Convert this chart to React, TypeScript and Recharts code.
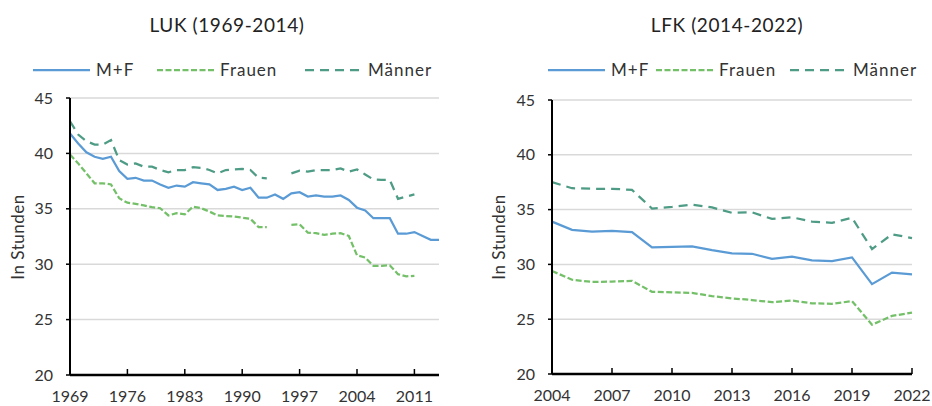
import React from "react";
import { LineChart, Line, XAxis, YAxis, CartesianGrid } from "recharts";

// LUK 1969-2014, weekly hours
const lukYears = [
  1969, 1970, 1971, 1972, 1973, 1974, 1975, 1976, 1977, 1978, 1979, 1980,
  1981, 1982, 1983, 1984, 1985, 1986, 1987, 1988, 1989, 1990, 1991, 1992,
  1993, 1994, 1995, 1996, 1997, 1998, 1999, 2000, 2001, 2002, 2003, 2004,
  2005, 2006, 2007, 2008, 2009, 2010, 2011, 2012, 2013, 2014,
];
const lukMF = [
  41.8, 40.9, 40.1, 39.7, 39.5, 39.7, 38.4, 37.7, 37.8, 37.55, 37.55, 37.2,
  36.9, 37.1, 37.0, 37.4, 37.3, 37.2, 36.7, 36.8, 37.0, 36.7, 36.9, 36.0,
  36.0, 36.3, 35.9, 36.4, 36.5, 36.1, 36.2, 36.1, 36.1, 36.2, 35.8, 35.1,
  34.85, 34.15, 34.15, 34.15, 32.75, 32.75, 32.9, 32.55, 32.2, 32.2,
];
const lukFrauen = [
  39.9, 39.1, 38.2, 37.3, 37.3, 37.2, 35.95, 35.55, 35.45, 35.3, 35.15, 35.05,
  34.4, 34.6, 34.5, 35.2, 35.05, 34.75, 34.4, 34.35, 34.3, 34.2, 34.1, 33.35,
  33.35, null, null, 33.55, 33.6, 32.85, 32.8, 32.65, 32.75, 32.8, 32.55, 30.8,
  30.6, 29.85, 29.85, 29.9, 29.1, 28.9, 28.95, null, null, null,
];
const lukMaenner = [
  42.9, 41.7, 41.1, 40.8, 40.8, 41.2, 39.4, 39.0, 39.1, 38.8, 38.8, 38.5,
  38.3, 38.5, 38.5, 38.75, 38.7, 38.5, 38.2, 38.5, 38.55, 38.6, 38.5, 37.8,
  37.75, null, null, 38.2, 38.45, 38.35, 38.5, 38.5, 38.5, 38.65, 38.35, 38.55,
  38.1, 37.65, 37.6, 37.6, 35.9, 36.1, 36.3, null, null, null,
];

// LFK 2004-2022
const lfkYears = [
  2004, 2005, 2006, 2007, 2008, 2009, 2010, 2011, 2012, 2013, 2014, 2015,
  2016, 2017, 2018, 2019, 2020, 2021, 2022,
];
const lfkMF = [
  33.9, 33.15, 33.0, 33.05, 32.95, 31.55, 31.6, 31.65, 31.3, 31.0, 30.97, 30.5,
  30.7, 30.37, 30.3, 30.64, 28.2, 29.25, 29.1,
];
const lfkFrauen = [
  29.4, 28.6, 28.4, 28.43, 28.5, 27.5, 27.45, 27.4, 27.1, 26.9, 26.75, 26.55,
  26.7, 26.45, 26.4, 26.65, 24.5, 25.3, 25.6,
];
const lfkMaenner = [
  37.5, 36.95, 36.9, 36.9, 36.8, 35.1, 35.25, 35.45, 35.2, 34.7, 34.75, 34.15,
  34.3, 33.9, 33.8, 34.25, 31.4, 32.75, 32.4,
];

const yTicks = [20, 25, 30, 35, 40, 45];
const lukXTicks = [1969, 1976, 1983, 1990, 1997, 2004, 2011];
const lfkXTicks = [2004, 2007, 2010, 2013, 2016, 2019, 2022];

const FONT = "Lato, 'Open Sans', sans-serif";
const TEXT = "#333333";

const series = [
  { key: "mf", name: "M+F", color: "#5B9BD5", dash: undefined },
  { key: "frauen", name: "Frauen", color: "#74C069", dash: "6 2.5" },
  { key: "maenner", name: "Männer", color: "#4E9C85", dash: "9 6" },
];

function buildRows(years: number[], mf: any[], frauen: any[], maenner: any[]) {
  return years.map((year, i) => ({
    year,
    mf: mf[i],
    frauen: frauen[i],
    maenner: maenner[i],
  }));
}

interface PanelProps {
  left: number;
  title: string;
  titleX: number;
  rows: any[];
  domain: [number, number];
  ticks: number[];
  yWidth: number;
  top: number;
  right: number;
  xHeight: number;
  legendX: number[];
  labelX: number;
}

function Panel(p: PanelProps) {
  const renderXTick = (props: any) => {
    const { x, y, payload } = props;
    return (
      <g>
        {payload.value !== p.domain[0] && (
          <line x1={x} x2={x} y1={y} y2={y - 6} stroke="#000" strokeWidth={1.5} />
        )}
        <text x={x} y={y + 27} textAnchor="middle" fill={TEXT} fontSize={16} fontFamily={FONT}>
          {payload.value}
        </text>
      </g>
    );
  };

  return (
    <div style={{ position: "absolute", left: p.left, top: 0, width: 466, height: 406 }}>
      <LineChart
        width={466}
        height={406}
        data={p.rows}
        margin={{ top: p.top, right: p.right, bottom: 0, left: 0 }}
      >
        <CartesianGrid vertical={false} stroke="#d9d9d9" strokeWidth={1.5} />
        <XAxis
          dataKey="year"
          type="number"
          domain={p.domain}
          ticks={p.ticks}
          interval={0}
          height={p.xHeight}
          tickSize={0}
          tickMargin={0}
          tickLine={false}
          axisLine={{ stroke: "#000", strokeWidth: 2.5 }}
          tick={renderXTick}
        />
        <YAxis
          domain={[20, 45]}
          ticks={yTicks}
          interval={0}
          width={p.yWidth}
          tickSize={4}
          tickMargin={13}
          axisLine={{ stroke: "#000", strokeWidth: 2 }}
          tickLine={{ stroke: "#000", strokeWidth: 1.5 }}
          tick={{ fill: TEXT, fontSize: 16, fontFamily: FONT }}
        />
        {series.map((s) => (
          <Line
            key={s.key}
            dataKey={s.key}
            name={s.name}
            type="linear"
            stroke={s.color}
            strokeWidth={2.25}
            strokeDasharray={s.dash}
            dot={false}
            activeDot={false}
            isAnimationActive={false}
          />
        ))}
      </LineChart>
      <svg
        width={466}
        height={406}
        style={{ position: "absolute", left: 0, top: 0, pointerEvents: "none" }}
      >
        <text
          x={p.titleX}
          y={32}
          textAnchor="middle"
          fontSize={19}
          letterSpacing={0.6}
          fill="#222"
          fontFamily={FONT}
        >
          {p.title}
        </text>
        {series.map((s, i) => (
          <g key={s.key}>
            <line
              x1={p.legendX[i]}
              x2={p.legendX[i] + 57}
              y1={70}
              y2={70}
              stroke={s.color}
              strokeWidth={2.25}
              strokeDasharray={s.dash}
            />
            <text
              x={p.legendX[i] + 63}
              y={76}
              fontSize={17}
              letterSpacing={1}
              fill={TEXT}
              fontFamily={FONT}
            >
              {s.name}
            </text>
          </g>
        ))}
        <text
          x={p.labelX}
          y={237}
          transform={`rotate(-90, ${p.labelX}, 237)`}
          textAnchor="middle"
          dominantBaseline="central"
          fontSize={17}
          letterSpacing={0.5}
          fill={TEXT}
          fontFamily={FONT}
        >
          In Stunden
        </text>
      </svg>
    </div>
  );
}

export default function App() {
  return (
    <div
      style={{
        position: "absolute",
        left: 0,
        top: 0,
        width: 932,
        height: 406,
        background: "#fff",
        fontFamily: FONT,
      }}
    >
      <Panel
        left={0}
        title="LUK (1969-2014)"
        titleX={227}
        rows={buildRows(lukYears, lukMF, lukFrauen, lukMaenner)}
        domain={[1969, 2014]}
        ticks={lukXTicks}
        yWidth={70}
        top={98}
        right={27}
        xHeight={31}
        legendX={[33, 157, 305]}
        labelX={17}
      />
      <Panel
        left={466}
        title="LFK (2014-2022)"
        titleX={261}
        rows={buildRows(lfkYears, lfkMF, lfkFrauen, lfkMaenner)}
        domain={[2004, 2022]}
        ticks={lfkXTicks}
        yWidth={86}
        top={100}
        right={20}
        xHeight={32}
        legendX={[82, 190, 324]}
        labelX={32}
      />
    </div>
  );
}
